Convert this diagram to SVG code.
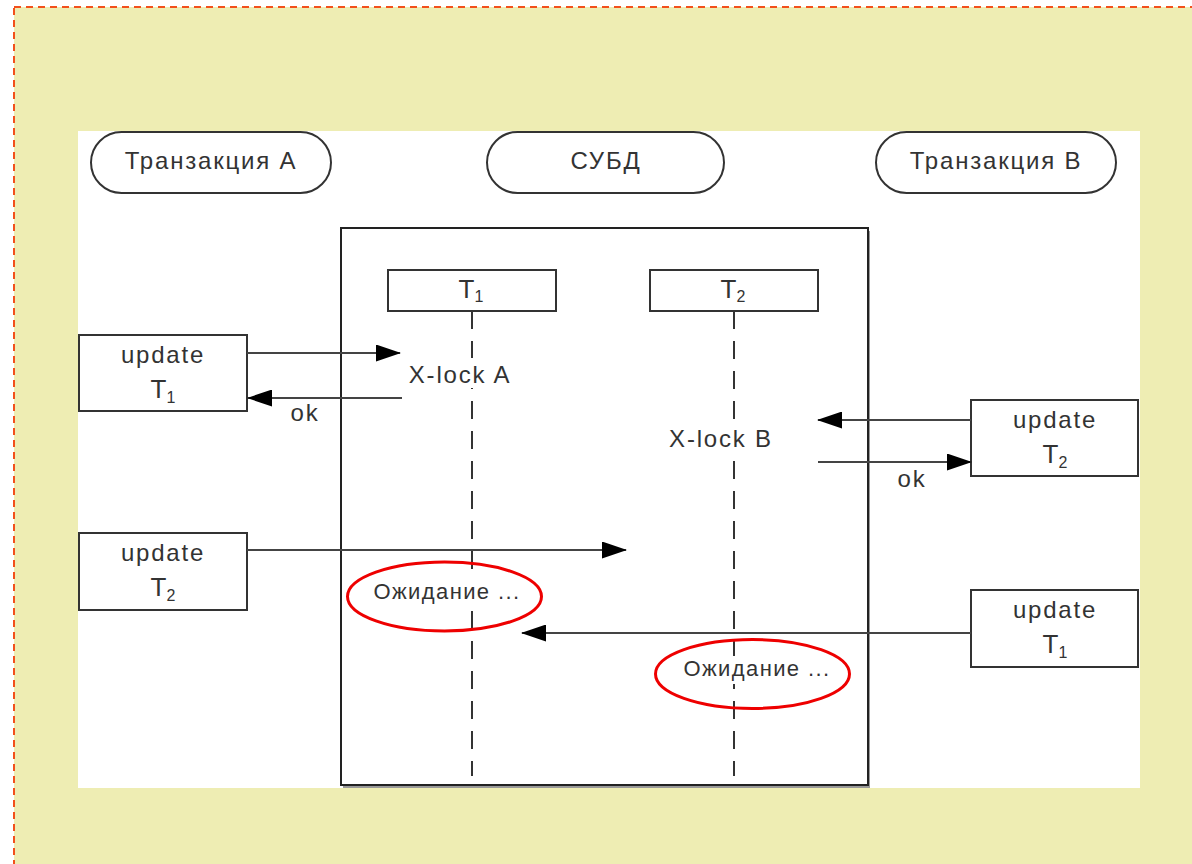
<svg xmlns="http://www.w3.org/2000/svg" width="1192" height="864" viewBox="0 0 1192 864">
  <defs>
    <style>
      .lbl { font-family: "Liberation Sans", Arial, sans-serif; font-size: 24px; letter-spacing: 1.8px; fill: #333; text-anchor: middle; }
      .tt { font-size: 26px; letter-spacing: 0; }
      .sub { font-size: 16px; }
      .wt { font-size: 22px; letter-spacing: 1.4px; }
      .box { fill: #fff; stroke: #333; stroke-width: 2; }
      .pill { fill: #fff; stroke: #333; stroke-width: 2; }
      .msg { stroke: #444; stroke-width: 2; fill: none; marker-end: url(#arrow); }
      .life { stroke: #333; stroke-width: 2; stroke-dasharray: 18 12; fill: none; }
      .wait { fill: none; stroke: #e00; stroke-width: 3; }
    </style>
    <marker id="arrow" viewBox="0 0 25 17" refX="24" refY="8.5" markerWidth="25" markerHeight="17" markerUnits="userSpaceOnUse" orient="auto">
      <path d="M0,0 L25,8.5 L0,17 Z" fill="#000"/>
    </marker>
  </defs>

  <!-- page background -->
  <rect x="0" y="0" width="1192" height="864" fill="#fff"/>
  <rect x="14" y="7" width="1200" height="880" fill="#eeedb3" stroke="#f2501c" stroke-width="2" stroke-dasharray="7 5"/>
  <rect x="78" y="131" width="1062" height="657" fill="#fff"/>

  <!-- participants -->
  <g id="trans-a">
    <rect class="pill" x="91" y="132" width="240" height="61" rx="30.5"/>
    <text class="lbl" x="211" y="169">Транзакция A</text>
  </g>
  <g id="dbms">
    <rect class="pill" x="487" y="132" width="237" height="61" rx="30.5"/>
    <text class="lbl" x="606" y="169">СУБД</text>
  </g>
  <g id="trans-b">
    <rect class="pill" x="876" y="132" width="240" height="61" rx="30.5"/>
    <text class="lbl" x="996" y="169">Транзакция B</text>
  </g>

  <!-- DBMS frame -->
  <g id="dbms-frame">
    <rect x="343" y="231" width="527" height="557" fill="#999"/>
    <rect x="341" y="228" width="527" height="557" fill="#fff" stroke="#222" stroke-width="2"/>
  </g>

  <!-- lifeline heads -->
  <g id="t1">
    <rect class="box" x="388" y="270" width="168" height="41"/>
    <text class="lbl tt" x="471" y="298">T<tspan class="sub" dy="4">1</tspan></text>
  </g>
  <g id="t2">
    <rect class="box" x="650" y="270" width="168" height="41"/>
    <text class="lbl tt" x="733" y="298">T<tspan class="sub" dy="4">2</tspan></text>
  </g>

  <!-- requests -->
  <g id="req-a1">
    <rect class="box" x="79" y="335" width="168" height="76"/>
    <text class="lbl" x="163" y="363">update</text>
    <text class="lbl tt" x="163" y="398">T<tspan class="sub" dy="5">1</tspan></text>
  </g>
  <g id="req-b2">
    <rect class="box" x="971" y="400" width="167" height="76"/>
    <text class="lbl" x="1055" y="428">update</text>
    <text class="lbl tt" x="1055" y="463">T<tspan class="sub" dy="5">2</tspan></text>
  </g>
  <g id="req-a2">
    <rect class="box" x="79" y="533" width="168" height="77"/>
    <text class="lbl" x="163" y="561">update</text>
    <text class="lbl tt" x="163" y="596">T<tspan class="sub" dy="5">2</tspan></text>
  </g>
  <g id="req-b1">
    <rect class="box" x="971" y="590" width="167" height="77"/>
    <text class="lbl" x="1055" y="618">update</text>
    <text class="lbl tt" x="1055" y="653">T<tspan class="sub" dy="5">1</tspan></text>
  </g>

  <!-- connectors -->
  <g id="connectors">
    <path class="life" d="M472,311 V776"/>
    <path class="life" d="M734,311 V776"/>
    <path class="msg" d="M247,353 H400"/>
    <path class="msg" d="M402,398 H248"/>
    <path class="msg" d="M971,420 H818"/>
    <path class="msg" d="M818,462 H971"/>
    <path class="msg" d="M247,550 H626"/>
    <path class="msg" d="M971,633 H522"/>
  </g>

  <!-- lock states -->
  <g id="lock-a">
    <rect x="404" y="358" width="112" height="30" fill="#fff"/>
    <text class="lbl" x="460" y="383">X-lock A</text>
  </g>
  <text class="lbl" x="305" y="421">ok</text>
  <g id="lock-b">
    <rect x="665" y="424" width="112" height="30" fill="#fff"/>
    <text class="lbl" x="721" y="447">X-lock B</text>
  </g>
  <text class="lbl" x="912" y="487">ok</text>

  <!-- waiting markers -->
  <g id="wait-a">
    <rect x="372" y="578" width="150" height="28" fill="#fff"/>
    <text class="lbl wt" x="447" y="599">Ожидание ...</text>
    <ellipse class="wait" cx="444.5" cy="596.5" rx="97" ry="34.5"/>
  </g>
  <g id="wait-b">
    <rect x="682" y="656" width="150" height="28" fill="#fff"/>
    <text class="lbl wt" x="757" y="676">Ожидание ...</text>
    <ellipse class="wait" cx="752.5" cy="674" rx="97" ry="34.5"/>
  </g>
</svg>
